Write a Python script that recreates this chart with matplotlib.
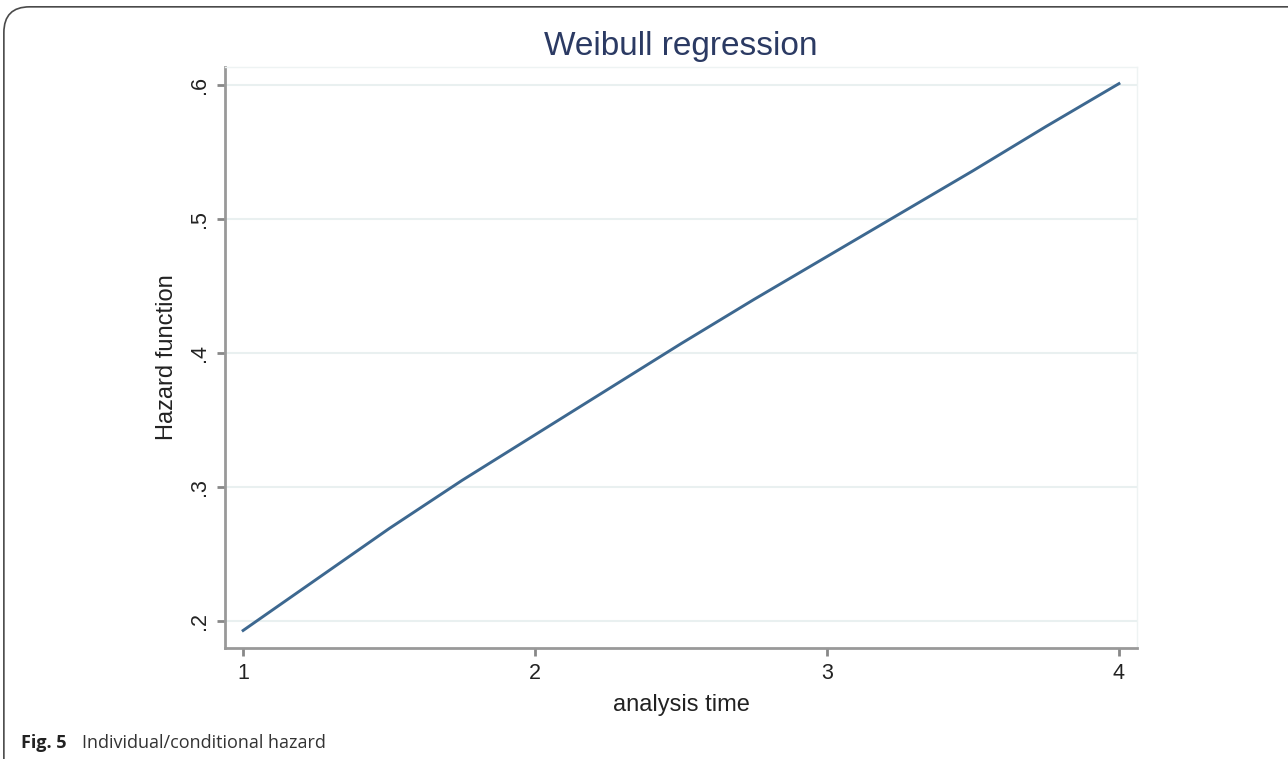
import numpy as np
import matplotlib
matplotlib.use("Agg")
import matplotlib.pyplot as plt
from matplotlib.patches import FancyBboxPatch

# values
analysis_time = [1.0, 1.25, 1.5, 1.75, 2.0, 2.25, 2.5, 2.75, 3.0, 3.25, 3.5, 3.75, 4.0]
hazard = [0.193, 0.231, 0.269, 0.305, 0.339, 0.373, 0.407, 0.440, 0.472, 0.504, 0.536, 0.569, 0.601]

x_ticks = [1, 2, 3, 4]
y_ticks = [0.2, 0.3, 0.4, 0.5, 0.6]
y_labels = [".2", ".3", ".4", ".5", ".6"]

plt.rcParams['font.family'] = ['Liberation Sans', 'DejaVu Sans']

fig = plt.figure(figsize=(12.88, 7.59), dpi=100)
ax = fig.add_axes([0.1747, 0.1462, 0.7081, 0.7655])

# outer rounded frame of the figure panel
frame = FancyBboxPatch((0.003, -0.05), 1.1, 1.041, boxstyle="round,pad=0,rounding_size=0.02",
                       transform=fig.transFigure, fill=False, edgecolor='#4a4a4a', linewidth=1.2,
                       mutation_aspect=1288 / 759)
fig.patches.append(frame)

ax.plot(analysis_time, hazard, color='#3d6890', linewidth=2.1, zorder=3)

ax.set_xlim(0.938, 4.062)
ax.set_ylim(0.1799, 0.6134)
ax.set_xticks(x_ticks)
ax.set_yticks(y_ticks)
ax.set_yticklabels(y_labels, rotation=90, va='center')

ax.grid(axis='y', color='#e9f0f0', linewidth=1.5)
ax.set_axisbelow(True)

for s in ['left', 'bottom']:
    ax.spines[s].set_color('#999999')
    ax.spines[s].set_linewidth(2)
for s in ['top', 'right']:
    ax.spines[s].set_color('#eef3f3')
    ax.spines[s].set_linewidth(1)

ax.tick_params(axis='both', colors='#888888', length=6, width=2, labelcolor='#222222',
               labelsize=15.5, pad=5)

ax.set_xlabel("analysis time", fontsize=17, color='#222222', labelpad=7)
ax.set_ylabel("Hazard function", fontsize=17, color='#222222', labelpad=8)
ax.set_title("Weibull regression", fontsize=24, color='#2b3a63', pad=9)

fig.text(0.016, 0.0145, "Fig. 5", fontsize=13, fontweight='bold', family='Open Sans', color='#222222')
fig.text(0.0637, 0.0145, "Individual/conditional hazard", fontsize=13, family='Open Sans', color='#333333')

fig.savefig("out.png", dpi=100)
